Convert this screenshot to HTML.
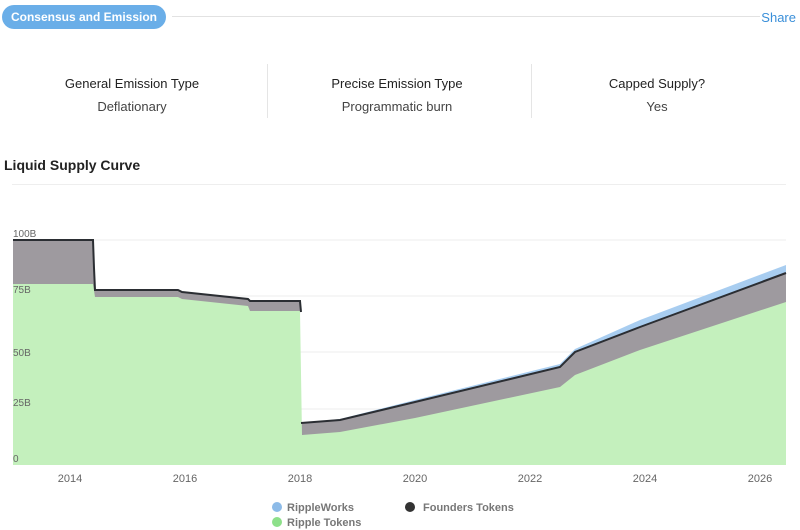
<!DOCTYPE html>
<html><head><style>
body{margin:0;width:800px;height:530px;background:#fff;font-family:"Liberation Sans",sans-serif;position:relative;overflow:hidden}
.pill{position:absolute;left:2px;top:5px;width:164px;height:24px;border-radius:12px;background:#6aaee8;color:#fff;font-size:12px;font-weight:bold;line-height:24px;text-align:center}
.hr{position:absolute;left:172px;top:16px;width:588px;height:1px;background:#e2e2e2}
.share{position:absolute;right:4px;top:10px;color:#3a8fd9;font-size:13px}
.col{position:absolute;top:76px;text-align:center;font-size:13px;color:#222}
.col b{font-weight:normal;display:block;margin-bottom:8px}
.col span{color:#444}
.sep{position:absolute;top:64px;width:1px;height:54px;background:#e5e5e5}
.title{position:absolute;left:4px;top:157px;font-size:14px;font-weight:bold;color:#222}
.hr2{position:absolute;left:12px;top:184px;width:774px;height:1px;background:#eee}
</style></head><body>
<div class="pill">Consensus and Emission</div><div class="hr"></div><div class="share">Share</div>
<div class="col" style="left:40px;width:184px"><b>General Emission Type</b><span>Deflationary</span></div>
<div class="sep" style="left:267px"></div>
<div class="col" style="left:300px;width:194px"><b>Precise Emission Type</b><span>Programmatic burn</span></div>
<div class="sep" style="left:531px"></div>
<div class="col" style="left:560px;width:194px"><b>Capped Supply?</b><span>Yes</span></div>
<div class="title">Liquid Supply Curve</div><div class="hr2"></div>
<svg width="800" height="530" style="position:absolute;left:0;top:0" font-family="Liberation Sans, sans-serif">
<g stroke="#ececec" stroke-width="1">
<line x1="13" y1="240" x2="786" y2="240"/><line x1="13" y1="296" x2="786" y2="296"/><line x1="13" y1="352" x2="786" y2="352"/><line x1="13" y1="409" x2="786" y2="409"/>
</g>
<polygon fill="#a8cdf0" points="300,423 340,419 415,400 560,364 575,349 640,320 786,265 786,465 300,465"/>
<polygon fill="#9e9a9f" points="13,240 93,240 94,268 95,290 178,290 182,292 248,299 250,301 300,301 300,423 340,420 415,402 560,367 575,352 640,327 786,273 786,465 13,465"/>
<polygon fill="#c4f0bd" points="13,284 93,284 95,297 178,297 182,299 248,306 250,311 300,311 302,435 340,432 415,418 560,387 575,375 640,350 786,302 786,465 13,465"/>
<polyline fill="none" stroke="#2b2e33" stroke-width="2" points="13,240 93,240 94,268 95,290 178,290 182,292 248,299 250,301 300,301 301,312"/>
<polyline fill="none" stroke="#2b2e33" stroke-width="2" points="301,423 340,420 415,402 560,367 575,352 640,327 786,273"/>
<g fill="#666" font-size="10">
<text x="13" y="237">100B</text><text x="13" y="293">75B</text><text x="13" y="356">50B</text><text x="13" y="406">25B</text><text x="13" y="462">0</text>
</g>
<g fill="#666" font-size="11" text-anchor="middle">
<text x="70" y="482">2014</text><text x="185" y="482">2016</text><text x="300" y="482">2018</text><text x="415" y="482">2020</text><text x="530" y="482">2022</text><text x="645" y="482">2024</text><text x="760" y="482">2026</text>
</g>
<g font-size="11" fill="#777" font-weight="bold">
<circle cx="277" cy="507" r="5" fill="#8dbbe8"/><text x="287" y="511">RippleWorks</text>
<circle cx="410" cy="507" r="5" fill="#333"/><text x="423" y="511">Founders Tokens</text>
<circle cx="277" cy="522" r="5" fill="#8de08a"/><text x="287" y="526">Ripple Tokens</text>
</g>
</svg>
</body></html>
